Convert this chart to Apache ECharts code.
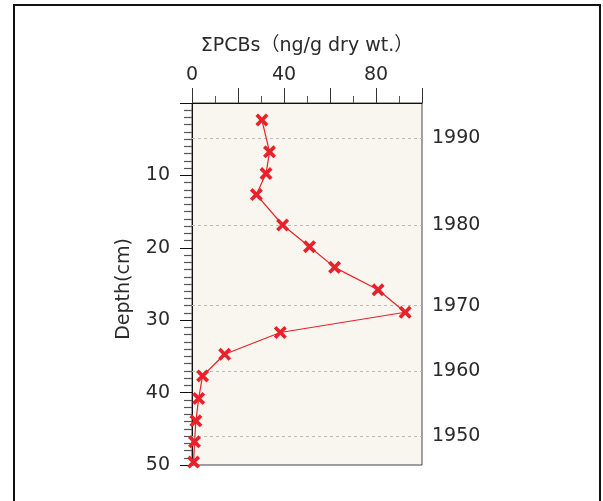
<!DOCTYPE html>
<html>
<head>
<meta charset="utf-8">
<script src="https://cdn.jsdelivr.net/npm/echarts@6/dist/echarts.min.js"></script>
<style>
  html, body { margin: 0; padding: 0; background: #fff; }
  #chart { width: 603px; height: 501px; }
</style>
</head>
<body>
<div id="chart"></div>
<script>
/* PCB濃度の鉛直分布 */
var pcbs  = [30.4, 33.7, 32.2, 28.0, 39.4, 51.1, 62.0, 80.9, 92.7, 38.4, 14.2, 4.6, 2.9, 1.7, 1.1, 0.7];
var depth = [2.35, 6.75, 9.75, 12.65, 16.85, 19.85, 22.7, 25.8, 28.9, 31.7, 34.7, 37.7, 40.8, 43.9, 46.8, 49.6];
var years      = ['1990', '1980', '1970', '1960', '1950'];
var yearDepths = [4.8, 16.85, 28.0, 37.0, 46.0];

var font = '"DejaVu Sans", "Noto Sans CJK JP", sans-serif';
var red = '#e8222a';
var cross = 'path://M0,2 L2,0 L5,3 L8,0 L10,2 L7,5 L10,8 L8,10 L5,7 L2,10 L0,8 L3,5 Z';

var points = [];
for (var i = 0; i < pcbs.length; i++) {
  points.push([pcbs[i], depth[i]]);
}
var yearLines = [];
for (var j = 0; j < years.length; j++) {
  yearLines.push({ yAxis: yearDepths[j], label: { formatter: years[j] } });
}

var chart = echarts.init(document.getElementById('chart'));
var option = {
  animation: false,
  textStyle: { fontFamily: font },
  graphic: [{
    type: 'rect',
    shape: { x: 14, y: 5, width: 586, height: 600 },
    style: { fill: 'none', stroke: '#111', lineWidth: 2 },
    silent: true
  }],
  grid: {
    left: 192, top: 103, width: 230, height: 362,
    show: true,
    backgroundColor: '#f9f6ef',
    borderColor: '#444',
    borderWidth: 1
  },
  xAxis: {
    type: 'value',
    position: 'top',
    min: 0, max: 100, interval: 20,
    name: 'ΣPCBs（ng/g dry wt.）',
    nameLocation: 'middle',
    nameGap: 47,
    nameTextStyle: { fontSize: 19, color: '#2a2a2a', fontFamily: font },
    axisLine: { show: true, lineStyle: { color: '#111', width: 1 } },
    axisTick: { show: true, length: 15, lineStyle: { color: '#333' } },
    minorTick: { show: true, splitNumber: 2, length: 7, lineStyle: { color: '#555' } },
    axisLabel: {
      margin: 18, fontSize: 19, color: '#2a2a2a', fontFamily: font,
      formatter: function (v) { return v % 40 === 0 ? v : ''; }
    },
    splitLine: { show: false }
  },
  yAxis: {
    type: 'value',
    inverse: true,
    min: 0, max: 50, interval: 10,
    name: 'Depth(cm)',
    nameLocation: 'middle',
    nameGap: 58,
    nameTextStyle: { fontSize: 19, color: '#2a2a2a', fontFamily: font, padding: [0, 10, 0, 0] },
    axisLine: { show: true, lineStyle: { color: '#111', width: 1 } },
    axisTick: { show: true, length: 12, lineStyle: { color: '#111' } },
    minorTick: { show: true, splitNumber: 10, length: 8, lineStyle: { color: '#555', width: 1.2 } },
    axisLabel: {
      margin: 22, fontSize: 19, color: '#2a2a2a', fontFamily: font,
      formatter: function (v) { return v === 0 ? '' : v; }
    },
    splitLine: { show: false }
  },
  series: [{
    type: 'line',
    data: points,
    symbol: cross,
    symbolSize: 13,
    lineStyle: { color: red, width: 1.2 },
    itemStyle: { color: red },
    z: 5,
    markLine: {
      silent: true,
      symbol: 'none',
      lineStyle: { type: [3, 3], color: '#bbb', width: 1 },
      label: {
        position: 'end', distance: 10,
        fontSize: 19, color: '#2a2a2a', fontFamily: font
      },
      data: yearLines
    }
  }]
};
chart.setOption(option);
</script>
</body>
</html>
